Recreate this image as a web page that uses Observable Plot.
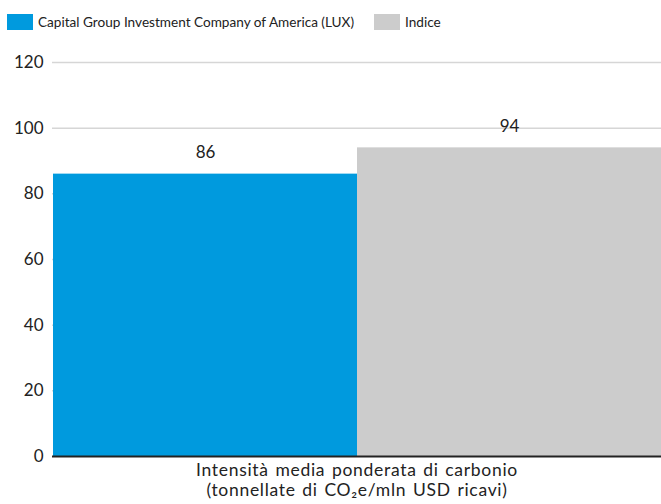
<!DOCTYPE html>
<html>
<head>
<meta charset="utf-8">
<script src="https://cdn.jsdelivr.net/npm/d3@7"></script>
<script src="https://cdn.jsdelivr.net/npm/@observablehq/plot@0.6"></script>
<style>
  body { margin: 0; background: #fff; font-family: Lato, "Open Sans", sans-serif; }
  #legend { height: 44px; display: flex; align-items: center; padding-left: 7px; font-size: 13.6px; color: #222; box-sizing: border-box; }
  #legend .item { display: flex; align-items: center; }
  #legend .sw { width: 26px; height: 16px; display: inline-block; margin-right: 5px; }
  #chart svg { display: block; }
</style>
</head>
<body>
<div id="legend"></div>
<div id="chart"></div>
<script>
const series = ["Capital Group Investment Company of America (LUX)", "Indice"];
const values = [86, 94];
const colors = ["#009ADE", "#CCCCCC"];
const yTicks = [0, 20, 40, 60, 80, 100, 120];
const xLabel = "Intensità media ponderata di carbonio\n(tonnellate di CO₂e/mln USD ricavi)";

const data = series.map((s, i) => ({series: s, value: values[i]}));

// Legend
const legend = document.getElementById("legend");
series.forEach((s, i) => {
  const it = document.createElement("span");
  it.className = "item";
  it.style.marginRight = i === 0 ? "20px" : "0";
  const sw = document.createElement("span");
  sw.className = "sw";
  sw.style.background = colors[i];
  it.appendChild(sw);
  it.appendChild(document.createTextNode(s));
  legend.appendChild(it);
});

const plot = Plot.plot({
  width: 661,
  height: 460,
  marginTop: 18,
  marginBottom: 48,
  marginLeft: 52,
  marginRight: 0,
  style: {fontFamily: "Lato, 'Open Sans', sans-serif", fontSize: "17px", color: "#222"},
  x: {domain: series, padding: 0, axis: null},
  y: {domain: [0, 120], ticks: yTicks},
  color: {domain: series, range: colors},
  marks: [
    Plot.gridY(yTicks.filter(d => d > 0), {stroke: "#d6d6d6", strokeOpacity: 1, strokeWidth: 1.5}),
    Plot.barY(data, {x: "series", y: "value", fill: "series"}),
    Plot.ruleY([0], {stroke: "#222", strokeWidth: 2}),
    Plot.axisY(yTicks, {tickSize: 0, tickPadding: 9, fontSize: 17, label: null}),
    Plot.text(data, {x: "series", y: "value", text: d => String(d.value), lineAnchor: "bottom", dy: -16, fontSize: 17, fill: "#222"}),
    Plot.text([xLabel], {frameAnchor: "bottom", lineAnchor: "top", dy: 5, fontSize: 17.5, lineHeight: 1.15, fill: "#222"})
  ]
});
const textGroups = plot.querySelectorAll('g[aria-label="text"]');
if (textGroups.length) {
  const g = textGroups[textGroups.length - 1];
  g.setAttribute("letter-spacing", "0.7px");
  g.setAttribute("word-spacing", "1.5px");
}
document.getElementById("chart").appendChild(plot);
</script>
</body>
</html>
